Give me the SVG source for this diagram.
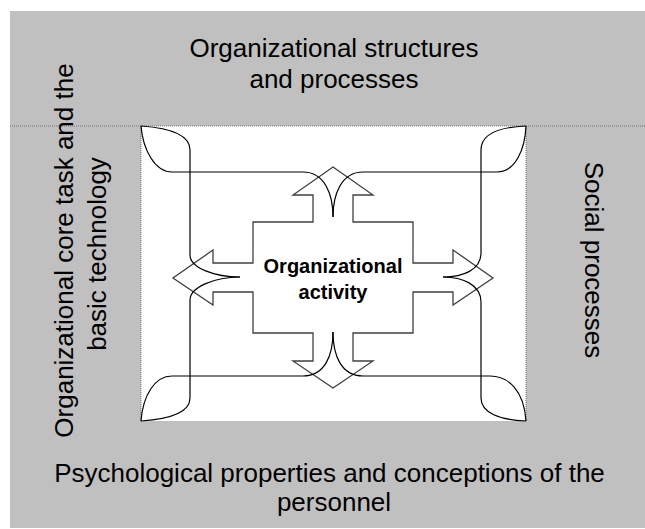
<svg xmlns="http://www.w3.org/2000/svg" width="645" height="529" viewBox="0 0 645 529">
<style>
.lbl{font-family:"Liberation Sans",Arial,sans-serif;font-size:26px;fill:#000;text-anchor:middle}
.ctr{font-family:"Liberation Sans",Arial,sans-serif;font-size:20px;font-weight:bold;fill:#000;text-anchor:middle}
.dot{stroke:#707070;stroke-width:1;stroke-dasharray:1 1;fill:none}
.cur{stroke:#000;stroke-width:1.2;fill:none}
.arr{stroke:#404040;stroke-width:1.3;fill:none;stroke-linejoin:miter}
</style>
<rect x="10" y="11" width="635" height="517" fill="#c0c0c0"/>
<rect x="141" y="126" width="385" height="295" fill="#fff"/>
<line class="dot" x1="10" y1="126" x2="645" y2="126"/>
<line class="dot" x1="141" y1="126" x2="141" y2="421"/>
<line class="dot" x1="526" y1="126" x2="526" y2="421"/>

<g id="node-top">
<text class="lbl" x="334" y="57">Organizational structures</text>
<text class="lbl" x="334" y="88">and processes</text>
</g>
<g id="node-bottom">
<text class="lbl" x="329.5" y="482">Psychological properties and conceptions of the</text>
<text class="lbl" x="334" y="511">personnel</text>
</g>
<g id="node-left">
<text class="lbl" transform="translate(73,250.5) rotate(-90)">Organizational core task and the</text>
<text class="lbl" transform="translate(106,254) rotate(-90)">basic technology</text>
</g>
<g id="node-right">
<text class="lbl" transform="translate(585,260) rotate(90)">Social processes</text>
</g>
<g id="node-center">
<polygon class="arr" points="333,167 373,195 353,195 353,222 413,222 413,263 453,263 453,250 493,278 453,305 453,292 413,292 413,333 353,333 353,361 373,361 333,388 293,361 313,361 313,333 253,333 253,292 213,292 213,305 173,278 213,250 213,263 253,263 253,222 313,222 313,195 293,195"/>
<text class="ctr" x="333" y="273">Organizational</text>
<text class="ctr" x="333" y="299">activity</text>
</g>
<g id="connectors">
<path class="cur" d="M141,126 C143,150 155,172 172,172 L303,172 C325,172 333,195 333,217"/>
<path class="cur" d="M141,126 C170,128 190,135 190,150 L190,255 C190,268 215,277 240,277"/>
<path class="cur" d="M526,126 C525,150 515,172 497,172 L363,172 C341,172 333,195 333,217"/>
<path class="cur" d="M526,126 C500,127 481,133 481,150 L481,253 C481,270 463,277 443,277"/>
<path class="cur" d="M141,421 C143,395 155,376 172,376 L303,376 C325,376 333,355 333,332"/>
<path class="cur" d="M141,421 C170,419 190,412 190,398 L190,300 C190,287 215,277 240,277"/>
<path class="cur" d="M526,421 C524,390 508,376 490,376 L363,376 C341,376 333,355 333,332"/>
<path class="cur" d="M526,421 C500,420 481,413 481,398 L481,302 C481,285 463,277 443,277"/>
</g>
</svg>
